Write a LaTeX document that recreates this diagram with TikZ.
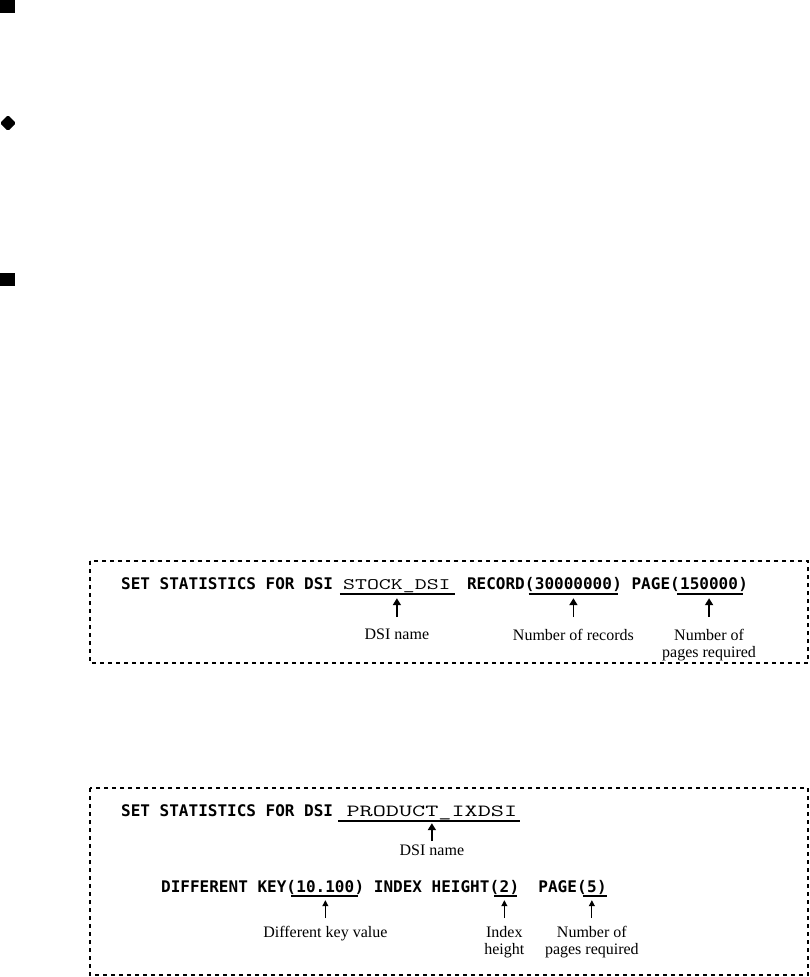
\documentclass[tikz,border=0pt]{standalone}
\usepackage{fontspec}
\usepackage{graphicx}
\setmainfont{Liberation Serif}
\newfontfamily\cmdfont{DejaVu Sans Mono}
\usetikzlibrary{arrows.meta,positioning}

% wide typewriter text for the DSI names
\newcommand{\widett}[2]{\scalebox{#1}[1]{#2}}

\tikzset{
  cmd/.style={font=\cmdfont\bfseries\fontsize{16}{16}\selectfont, inner sep=0pt, text depth=0pt},
  dsi/.style={font=\ttfamily\fontsize{#1}{#1}\selectfont, inner sep=0pt, text depth=0pt},
  lbl/.style={font=\fontsize{16}{17}\selectfont, inner sep=0pt, anchor=north, align=center},
  dsibox/.style={dash pattern=on 4pt off 4pt, line width=1.3pt},
  uline/.style={line width=1.6pt},
  ptr/.style={-{Triangle[length=7pt,width=8pt]}, line width=1.8pt, shorten >=9pt, shorten <=12pt},
  thinptr/.style={-{Triangle[length=6pt,width=6pt]}, line width=1pt, shorten >=8pt, shorten <=8pt},
}

\begin{document}
\begin{tikzpicture}[x=1pt,y=-1pt]
  \useasboundingbox (0,0) rectangle (810,977);

  % bullets
  \fill (0,0) rectangle (15,13);
  \fill[rounded corners=1.5pt] (0,123) -- (8,115) -- (16,123) -- (8,131) -- cycle;
  \fill (0,273) rectangle (15,286);

  % first statement
  \draw[dsibox] (90,561) rectangle (808,663);
  \node[cmd, anchor=base west] (set1) at (121,589) {SET STATISTICS FOR DSI};
  \node[dsi=16, base right=9.6pt of set1] (stock) {\widett{1.45}{STOCK\_DSI}};
  \node[cmd, base right=16pt of stock] (rec) {RECORD(};
  \node[cmd, base right=0pt of rec] (recval) {30000000};
  \node[cmd, base right=0pt of recval] (pg1) {) PAGE(};
  \node[cmd, base right=0pt of pg1] (pg1val) {150000};
  \node[cmd, base right=0pt of pg1val] (pg1end) {)};

  \draw[uline] ([shift={(-3pt,-5pt)}]stock.base west) -- ([shift={(4pt,-5pt)}]stock.base east);
  \draw[uline] ([shift={(-6pt,-5pt)}]recval.base west) -- ([shift={(6pt,-5pt)}]recval.base east);
  \draw[uline] ([shift={(-3pt,-5pt)}]pg1val.base west) -- ([shift={(5pt,-5pt)}]pg1val.base east);

  \coordinate (lbl1) at (0,629);
  \node[lbl] (nstock) at (stock |- lbl1) {DSI name};
  \node[lbl] (nrec) at (recval |- lbl1) {Number of records};
  \node[lbl] (npg1) at (pg1val |- lbl1) {Number of\\pages required};
  \draw[ptr] (nstock) -- (stock);
  \draw[ptr] (nrec) -- (recval);
  \draw[ptr] (npg1) -- (pg1val);

  % second statement
  \draw[dsibox] (90,788) rectangle (808,975);
  \node[cmd, anchor=base west] (set2) at (121,816) {SET STATISTICS FOR DSI};
  \node[dsi=17, base right=13pt of set2] (prod) {\widett{1.5}{PRODUCT\_IXDSI}};
  \draw[uline] ([shift={(-8pt,-5pt)}]prod.base west) -- ([shift={(3pt,-5pt)}]prod.base east);

  \coordinate (lbl2) at (0,845);
  \node[lbl] (nprod) at (prod |- lbl2) {DSI name};
  \draw[ptr, shorten >=7pt, shorten <=4pt] (nprod) -- (prod);

  \node[cmd, anchor=base west] (diff) at (161,892) {DIFFERENT KEY(};
  \node[cmd, base right=0pt of diff] (keyval) {10.100};
  \node[cmd, base right=0pt of keyval] (idx) {) INDEX HEIGHT(};
  \node[cmd, base right=0pt of idx] (idxval) {2};
  \node[cmd, base right=0pt of idxval] (pg2) {)\ \ PAGE(};
  \node[cmd, base right=0pt of pg2] (pg2val) {5};
  \node[cmd, base right=0pt of pg2val] (pg2end) {)};

  \draw[uline] ([shift={(-5pt,-4pt)}]keyval.base west) -- ([shift={(4pt,-4pt)}]keyval.base east);
  \draw[uline] ([shift={(-5pt,-4pt)}]idxval.base west) -- ([shift={(8pt,-4pt)}]idxval.base east);
  \draw[uline] ([shift={(-4pt,-4pt)}]pg2val.base west) -- ([shift={(10pt,-4pt)}]pg2val.base east);

  \coordinate (lbl3) at (0,926);
  \node[lbl] (nkey) at (keyval |- lbl3) {Different key value};
  \node[lbl] (nidx) at (idxval |- lbl3) {Index\\height};
  \node[lbl] (npg2) at (pg2val |- lbl3) {Number of\\pages required};
  \draw[thinptr] (nkey) -- (keyval);
  \draw[thinptr] (nidx) -- (idxval);
  \draw[thinptr] (npg2) -- (pg2val);
\end{tikzpicture}
\end{document}
